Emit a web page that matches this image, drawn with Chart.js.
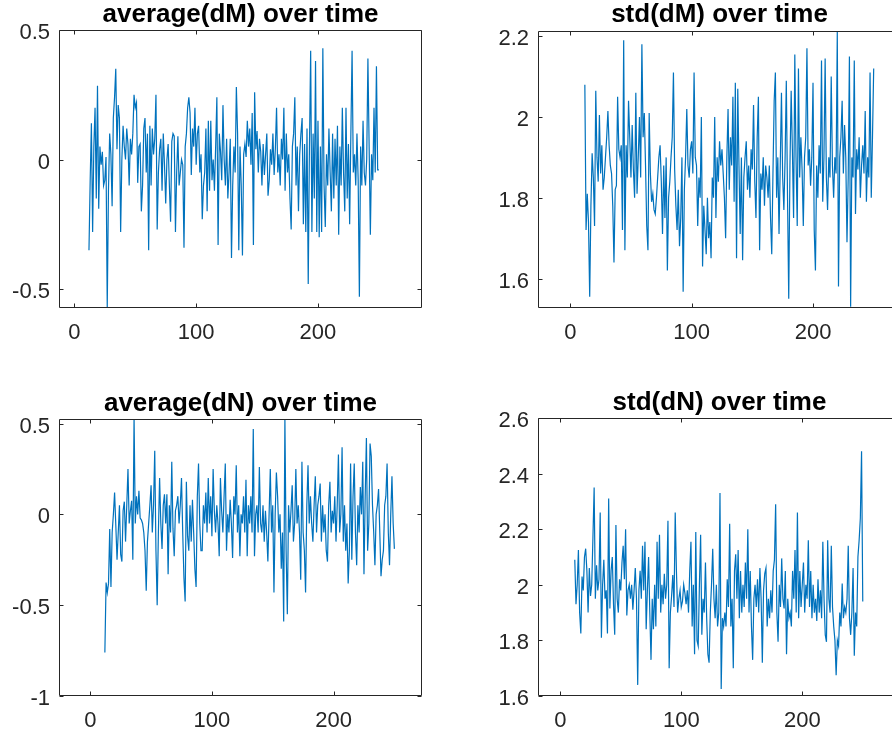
<!DOCTYPE html>
<html>
<head>
<meta charset="utf-8">
<script src="https://cdn.jsdelivr.net/npm/chart.js@4"></script>
<style>
  html, body { margin: 0; padding: 0; background: #fff; }
  body { position: relative; width: 892px; height: 738px; overflow: hidden; }
  canvas { position: absolute; }
</style>
</head>
<body>
<canvas id="c1" width="424" height="348" style="left:0;top:0"></canvas>
<canvas id="c2" width="443" height="348" style="left:460px;top:0"></canvas>
<canvas id="c3" width="424" height="347" style="left:0;top:389px"></canvas>
<canvas id="c4" width="443" height="348" style="left:460px;top:388px"></canvas>
<script>
// time steps 12 .. 250
const tStart = 12
const tCount = 239
const time = Array.from({ length: tCount }, (_, i) => tStart + i)

// average(dM)
const avgDM = [
  -0.35, -0.08, 0.14, -0.28, 0.05, 0.2, -0.15, 0.285, -0.19, 0.05,
  -0.02, 0.03, -0.1, -0.08, 0.01, -0.57, -0.12, 0.1, 0.02, -0.18,
  0.16, 0.24, 0.35, 0.04, 0.21, 0.16, -0.28, 0.0, 0.13, 0.05,
  0.0, 0.12, 0.06, -0.1, 0.08, 0.02, 0.1, 0.25, 0.2, 0.22,
  -0.09, 0.05, 0.06, -0.2, -0.1, 0.12, 0.16, -0.05, 0.1, -0.35,
  0.13, -0.1, 0.12, 0.02, 0.08, 0.25, -0.27, -0.05, 0.04, 0.08,
  -0.12, 0.1, -0.02, -0.17, 0.0, 0.06, -0.1, -0.24, 0.07, 0.1,
  0.09, -0.28, -0.05, 0.09, -0.1, -0.05, 0.0, -0.02, -0.34, 0.05,
  0.1, 0.2, 0.24, 0.18, -0.06, 0.12, 0.05, 0.2, -0.02, 0.1,
  0.13, -0.05, 0.02, -0.23, -0.1, -0.05, 0.12, -0.2, 0.15, -0.12,
  0.15, -0.08, 0.0, -0.12, 0.05, 0.24, -0.33, 0.1, 0.03, -0.08,
  0.21, 0.0, -0.1, 0.08, -0.15, -0.05, 0.08, -0.38, -0.1, 0.05,
  -0.05, 0.28, 0.1, -0.35, 0.05, -0.1, -0.37, 0.02, 0.06, 0.01,
  0.15, 0.05, 0.12, -0.02, 0.18, -0.33, 0.26, 0.04, 0.11, -0.05,
  0.08, 0.03, -0.1, 0.06, -0.06, 0.02, 0.1, -0.14, -0.08, 0.04,
  -0.02, 0.1, -0.06, 0.04, 0.2, -0.05, 0.02, -0.1, 0.08, 0.0,
  0.2, -0.12, 0.1, -0.05, 0.02, -0.15, -0.27, 0.05, 0.1, 0.24,
  -0.1, 0.05, -0.2, 0.02, 0.1, 0.16, -0.25, 0.06, -0.28, 0.12,
  -0.48, 0.05, 0.42, -0.28, 0.1, -0.15, 0.38, -0.28, 0.15, -0.3,
  0.05, -0.28, 0.43, -0.1, -0.26, 0.02, -0.1, 0.12, -0.05, -0.2,
  0.1, -0.15, 0.08, -0.1, 0.13, -0.29, 0.05, -0.1, 0.2, -0.05,
  -0.2, 0.2, -0.15, 0.06, -0.25, 0.1, 0.42, -0.05, 0.02, -0.1,
  0.1, -0.08, -0.53, 0.05, -0.1, 0.15, -0.05, -0.1, 0.0, 0.39,
  0.05, -0.29, 0.02, -0.08, 0.2, -0.05, 0.36, -0.04, -0.04,
]

// std(dM)
const stdDM = [
  2.08, 1.72, 1.81, 1.74, 1.555, 1.78, 1.91, 1.85, 1.73, 2.065,
  1.9, 1.84, 2.005, 1.86, 1.93, 1.82, 1.85, 1.9, 1.95, 2.015,
  1.93, 1.88, 1.86, 1.78, 1.64, 1.82, 1.83, 2.05, 1.92, 1.9,
  1.93, 1.72, 2.19, 1.67, 1.93, 1.85, 2.04, 1.95, 1.85, 1.98,
  1.87, 1.8, 2.06, 1.81, 1.9, 2.0, 1.85, 2.18, 1.95, 2.01,
  1.88, 1.73, 1.67, 2.01, 1.86, 1.79, 1.81, 1.77, 1.76, 1.8,
  1.85, 1.9, 1.93, 1.84, 1.71, 1.88, 1.75, 1.9, 1.62, 1.8,
  1.84, 1.9, 1.95, 2.11, 1.87, 1.78, 1.72, 1.82, 1.68, 1.75,
  1.9, 1.567, 1.82, 1.9, 2.02, 1.88, 1.85, 1.92, 1.94, 1.86,
  2.11, 1.9, 1.88, 1.73, 1.85, 1.8, 2.0, 1.63, 1.78, 1.72,
  1.66, 1.8, 1.7, 1.74, 1.65, 1.85, 1.8, 2.0, 1.75, 1.9,
  1.84, 1.94, 1.88, 1.92, 1.86, 1.8, 1.7, 1.9, 2.02, 1.82,
  1.95, 1.88, 2.05, 1.79, 2.085, 1.65, 2.07, 1.88, 1.71, 1.9,
  1.645, 1.85, 1.9, 1.94, 1.82, 1.88, 1.8, 1.92, 1.87, 2.03,
  1.84, 1.75, 1.95, 2.05, 1.67, 1.86, 1.82, 1.9, 1.78, 1.88,
  1.85, 1.8, 1.88, 1.75, 1.66, 1.86, 2.04, 2.11, 1.8, 1.9,
  1.71, 1.88, 2.06, 1.85, 1.77, 1.9, 2.09, 1.8, 1.55, 1.88,
  2.065, 1.92, 1.75, 2.155, 1.9, 1.73, 2.12, 1.85, 1.95, 1.87,
  1.73, 1.9, 1.95, 2.17, 1.88, 1.92, 1.83, 1.9, 2.085, 1.72,
  1.62, 1.88, 1.8, 1.93, 1.86, 2.14, 1.79, 1.9, 2.145, 1.85,
  1.77, 1.9, 1.85, 2.1, 1.88, 1.8, 1.9, 1.86, 2.213, 1.58,
  1.9, 1.95, 2.04, 1.86, 1.98, 1.9, 1.69, 1.85, 2.15, 1.53,
  1.9, 1.85, 2.14, 1.76, 1.92, 1.87, 1.95, 1.8, 1.88, 1.93,
  1.86, 2.015, 1.79, 1.9, 1.85, 2.11, 1.8, 1.95, 2.12,
]

// average(dN)
const avgDN = [
  -0.76, -0.375, -0.43, -0.38, -0.08, -0.4, -0.1, 0.0, 0.12, -0.06,
  -0.25, -0.1, 0.05, -0.22, -0.26, 0.02, 0.07, -0.15, 0.05, 0.25,
  -0.05, 0.02, 0.075, -0.25, 0.54, -0.05, 0.1, 0.0, 0.13, -0.02,
  -0.03, -0.05, -0.1, -0.2, -0.42, -0.15, -0.05, 0.05, 0.16, -0.1,
  0.05, 0.35, -0.2, -0.5, -0.1, 0.2, -0.05, -0.19, 0.05, 0.11,
  -0.05, 0.11, -0.33, 0.05, -0.1, 0.29, -0.08, -0.23, 0.02, 0.05,
  0.1, -0.05, 0.05, 0.2, -0.1, -0.35, -0.48, 0.18, -0.12, -0.2,
  0.05, -0.15, 0.08, -0.1, -0.3, -0.4, 0.1, 0.28, -0.05, -0.2,
  -0.2, 0.05, -0.05, 0.12, -0.1, 0.2, -0.05, 0.1, -0.12, 0.25,
  0.02, -0.1, 0.05, -0.05, -0.23, 0.2, 0.02, -0.1, 0.1, 0.28,
  -0.2, 0.0, -0.1, 0.08, -0.05, -0.24, 0.1, 0.0, 0.27, -0.1,
  0.05, -0.23, 0.0, -0.05, 0.1, -0.1, 0.19, -0.23, 0.05, -0.05,
  0.1, -0.1, 0.47, -0.23, 0.0, 0.05, -0.1, 0.26, -0.05, -0.1,
  0.05, -0.15, 0.02, -0.1, -0.26, 0.0, 0.25, -0.1, 0.05, -0.43,
  0.0, 0.23, 0.1, -0.1, 0.0, -0.3, -0.1, -0.59, 0.53, -0.2,
  -0.55, 0.05, -0.1, 0.02, 0.16, -0.15, -0.05, 0.25, -0.05, 0.05,
  -0.1, -0.36, 0.29, -0.1, -0.2, -0.43, 0.05, 0.27, -0.05, 0.1,
  -0.05, -0.15, 0.05, 0.21, -0.1, 0.05, 0.1, 0.17, -0.15, 0.05,
  -0.1, 0.0, -0.2, -0.26, 0.05, 0.18, -0.1, 0.02, -0.05, 0.1,
  -0.15, 0.05, 0.33, -0.1, 0.0, 0.37, -0.15, 0.05, -0.2, -0.05,
  -0.38, -0.2, 0.28, -0.25, 0.1, 0.28, -0.1, -0.28, 0.05, -0.1,
  0.15, 0.0, 0.29, -0.33, 0.1, 0.42, -0.2, -0.05, 0.39, 0.32,
  0.05, -0.1, -0.28, 0.0, 0.05, 0.14, -0.1, -0.34, -0.25, -0.2,
  0.05, 0.1, 0.28, -0.1, -0.28, 0.0, 0.21, -0.05, -0.19,
]

// std(dN)
const stdDN = [
  2.09, 1.93, 2.0, 2.125, 1.9, 1.825, 2.03, 1.98, 2.1, 2.13,
  2.05, 1.9, 2.06, 1.96, 2.0, 2.17, 2.35, 1.95, 2.07, 1.98,
  2.02, 2.26, 1.81, 2.0, 2.09, 1.95, 1.98, 1.825, 2.31, 1.915,
  2.05, 2.1, 1.93, 1.82, 2.215, 1.95, 1.9, 2.02, 1.98, 2.08,
  2.14, 2.02, 2.2, 1.89, 1.98, 2.0, 1.95, 2.0, 1.91, 1.98,
  2.06, 1.95, 1.64, 1.98, 2.05, 1.95, 2.14, 1.98, 2.155, 1.84,
  1.98, 2.1, 1.9, 1.73, 1.95, 1.84, 2.0, 1.85, 2.155, 1.95,
  2.18, 1.9, 2.0, 1.93, 2.04, 1.95, 2.0, 2.23, 1.7, 1.9,
  1.96, 2.035, 1.92, 2.26, 2.05, 1.9, 1.95, 1.98, 1.92, 1.94,
  2.0, 1.97, 1.93, 1.98, 1.9, 2.05, 2.155, 1.85, 2.0, 1.75,
  2.19, 1.8, 1.78, 2.0, 2.18, 1.82, 1.95, 1.9, 2.08, 1.88,
  1.75, 1.72, 1.9, 2.0, 2.13, 1.95, 1.88, 2.0, 1.85, 1.9,
  2.33, 1.625, 1.88, 1.85, 1.9, 1.85, 2.02, 1.92, 2.22, 1.85,
  1.95, 1.7, 2.05, 2.11, 1.95, 2.125, 1.88, 2.05, 1.9, 2.0,
  1.92, 2.08, 1.95, 2.2, 1.9, 2.05, 1.85, 1.73, 1.95, 2.0,
  1.92, 2.02, 1.9, 2.06, 1.95, 1.72, 1.98, 2.04, 2.06, 1.85,
  1.95, 1.88, 1.98, 1.9, 2.05, 2.09, 2.29, 1.9, 1.795, 2.0,
  1.92, 2.095, 1.95, 1.915, 2.05, 1.75, 1.95, 1.88, 1.9, 1.85,
  2.05, 1.95, 2.125, 1.9, 2.26, 1.88, 2.05, 1.92, 2.0, 2.08,
  1.9, 2.0, 1.95, 2.16, 1.92, 2.05, 1.88, 2.0, 1.9, 1.95,
  1.87, 2.02, 1.9, 1.98, 1.88, 2.155, 1.95, 1.82, 1.795, 2.16,
  1.95, 1.9, 2.14, 1.92, 1.85, 1.8, 1.675, 1.8, 1.78, 1.9,
  1.85, 2.005, 1.88, 1.92, 1.9, 1.95, 2.14, 1.88, 1.82, 1.9,
  2.06, 1.745, 1.9, 1.85, 2.1, 2.16, 2.24, 2.48, 1.94,
]

// tick labels
const xTicks = [0, 100, 200]
const avgDMTicks = [-0.5, 0, 0.5]
const stdDMTicks = [1.6, 1.8, 2, 2.2]
const avgDNTicks = [-1, -0.5, 0, 0.5]
const stdDNTicks = [1.6, 1.8, 2, 2.2, 2.4, 2.6]

const FONT = '"Liberation Sans", Arial, Helvetica, sans-serif'
const AXIS_COLOR = "#262626"
const LINE_COLOR = "#0072BD"

// MATLAB 風格的外框與朝內的刻度線
const boxPlugin = {
  id: "matlabBox",
  afterDraw(chart) {
    const { ctx, chartArea: a, scales } = chart
    const L = Math.round(a.left) + 0.5
    const R = Math.round(a.right) - 0.5
    const T = Math.round(a.top) + 0.5
    const B = Math.round(a.bottom) - 0.5
    const tl = 4
    ctx.save()
    ctx.strokeStyle = AXIS_COLOR
    ctx.lineWidth = 1
    ctx.beginPath()
    ctx.rect(L, T, R - L, B - T)
    scales.x.ticks.forEach((t) => {
      const px = Math.round(scales.x.getPixelForValue(t.value)) + 0.5
      ctx.moveTo(px, B)
      ctx.lineTo(px, B - tl)
      ctx.moveTo(px, T)
      ctx.lineTo(px, T + tl)
    })
    scales.y.ticks.forEach((t) => {
      const py = Math.round(scales.y.getPixelForValue(t.value)) + 0.5
      ctx.moveTo(L, py)
      ctx.lineTo(L + tl, py)
      ctx.moveTo(R, py)
      ctx.lineTo(R - tl, py)
    })
    ctx.stroke()
    ctx.restore()
  },
}

const fmt = (v) => String(Number(v.toFixed(2)))

function usePanel(id, opts) {
  const el = document.getElementById(id)
  return new Chart(el, {
    type: "line",
    data: {
      datasets: [
        {
          data: time.map((t, i) => ({ x: t, y: opts.values[i] })),
          borderColor: LINE_COLOR,
          borderWidth: 1.2,
          pointRadius: 0,
          tension: 0,
          fill: false,
        },
      ],
    },
    options: {
      responsive: false,
      animation: false,
      events: [],
      layout: { padding: { top: 0, right: 2, bottom: 0, left: 0 } },
      plugins: {
        legend: { display: false },
        tooltip: { enabled: false },
        title: {
          display: true,
          text: opts.title,
          fullSize: false,
          color: "#000",
          font: { family: FONT, size: 26, weight: "bold", lineHeight: 1 },
          padding: { top: 2, bottom: opts.titleGap },
        },
      },
      scales: {
        x: {
          type: "linear",
          min: opts.xRange[0],
          max: opts.xRange[1],
          afterBuildTicks: (s) => {
            s.ticks = xTicks.map((v) => ({ value: v }))
          },
          afterFit: (s) => {
            s.height = 40
          },
          grid: { display: false, drawTicks: false },
          border: { display: false },
          ticks: {
            padding: 12,
            color: AXIS_COLOR,
            font: { family: FONT, size: 22 },
            maxRotation: 0,
            autoSkip: false,
            callback: (v) => fmt(v),
          },
        },
        y: {
          type: "linear",
          min: opts.yRange[0],
          max: opts.yRange[1],
          afterBuildTicks: (s) => {
            s.ticks = opts.yTicks.map((v) => ({ value: v }))
          },
          afterFit: (s) => {
            s.width = opts.yWidth
          },
          grid: { display: false, drawTicks: false },
          border: { display: false },
          ticks: {
            padding: 9,
            labelOffset: 3,
            color: AXIS_COLOR,
            font: { family: FONT, size: 22 },
            autoSkip: false,
            callback: (v) => fmt(v),
          },
        },
      },
    },
    plugins: [boxPlugin],
  })
}

usePanel("c1", {
  title: "average(dM) over time",
  values: avgDM,
  xRange: [-12.6, 285.4],
  yRange: [-0.573, 0.5],
  yTicks: avgDMTicks,
  yWidth: 59,
  titleGap: 2,
})
usePanel("c2", {
  title: "std(dM) over time",
  values: stdDM,
  xRange: [-26.6, 272.5],
  yRange: [1.527, 2.213],
  yTicks: stdDMTicks,
  yWidth: 78,
  titleGap: 3,
})
usePanel("c3", {
  title: "average(dN) over time",
  values: avgDN,
  xRange: [-25.7, 272.7],
  yRange: [-1, 0.525],
  yTicks: avgDNTicks,
  yWidth: 59,
  titleGap: 2,
})
usePanel("c4", {
  title: "std(dN) over time",
  values: stdDN,
  xRange: [-18.4, 281.6],
  yRange: [1.6, 2.6],
  yTicks: stdDNTicks,
  yWidth: 78,
  titleGap: 2,
})
</script>
</body>
</html>
